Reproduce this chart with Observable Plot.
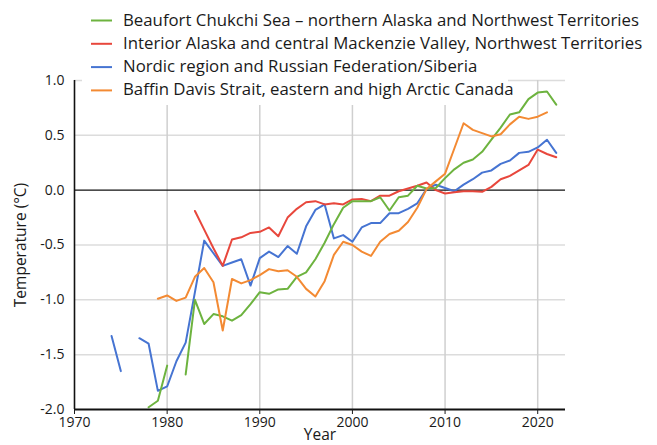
<!DOCTYPE html>
<html>
<head>
<meta charset="utf-8">
<script src="https://cdn.jsdelivr.net/npm/d3@7"></script>
<script src="https://cdn.jsdelivr.net/npm/@observablehq/plot@0.6"></script>
<style>
  html, body { margin: 0; padding: 0; background: #fff; }
  #chart { width: 657px; height: 445px; }
</style>
</head>
<body>
<div id="chart"></div>
<script>
const years = d3.range(1974, 2023);

const seriesNames = [
  "Beaufort Chukchi Sea \u2013 northern Alaska and Northwest Territories",
  "Interior Alaska and central Mackenzie Valley, Northwest Territories",
  "Nordic region and Russian Federation/Siberia",
  "Baffin Davis Strait, eastern and high Arctic Canada"
];
const seriesColors = ["#6db33f", "#e8473c", "#4674d2", "#f38a33"];

// values for 1974..2022 (null = no data)
const beaufort = [
  null, null, null, null, -1.98, -1.92, -1.60, null, -1.68, -1.00,
  -1.22, -1.13, -1.15, -1.19, -1.14, -1.04, -0.93, -0.945, -0.905, -0.90,
  -0.79, -0.75, -0.63, -0.48, -0.31, -0.16, -0.10, -0.10, -0.10, -0.065,
  -0.185, -0.065, -0.05, 0.04, 0.015, 0.02, 0.11, 0.19, 0.25, 0.28,
  0.35, 0.46, 0.57, 0.69, 0.71, 0.83, 0.89, 0.90, 0.78
];
const interior = [
  null, null, null, null, null, null, null, null, null, -0.19,
  -0.36, -0.53, -0.69, -0.45, -0.43, -0.39, -0.38, -0.34, -0.42, -0.25,
  -0.17, -0.11, -0.10, -0.13, -0.12, -0.13, -0.085, -0.08, -0.10, -0.05,
  -0.05, -0.01, 0.015, 0.04, 0.07, 0.00, -0.03, -0.02, -0.01, -0.01,
  -0.015, 0.03, 0.10, 0.13, 0.18, 0.23, 0.37, 0.33, 0.30
];
const nordic = [
  -1.33, -1.65, null, -1.35, -1.40, -1.83, -1.79, -1.56, -1.39, -0.93,
  -0.46, -0.575, -0.69, -0.66, -0.63, -0.87, -0.62, -0.56, -0.61, -0.51,
  -0.58, -0.33, -0.18, -0.13, -0.44, -0.41, -0.47, -0.34, -0.30, -0.30,
  -0.21, -0.21, -0.17, -0.12, 0.01, 0.05, 0.02, -0.01, 0.05, 0.10,
  0.16, 0.18, 0.24, 0.27, 0.34, 0.35, 0.39, 0.46, 0.34
];
const baffin = [
  null, null, null, null, null, -0.99, -0.96, -1.01, -0.98, -0.79,
  -0.71, -0.84, -1.28, -0.81, -0.85, -0.82, -0.775, -0.72, -0.74, -0.73,
  -0.79, -0.90, -0.97, -0.83, -0.59, -0.47, -0.50, -0.56, -0.60, -0.47,
  -0.40, -0.37, -0.29, -0.16, 0.01, 0.08, 0.15, 0.38, 0.61, 0.55,
  0.52, 0.49, 0.51, 0.60, 0.67, 0.65, 0.67, 0.71, null
];

const xTicks = [1970, 1980, 1990, 2000, 2010, 2020];
const yTicks = [-2, -1.5, -1, -0.5, 0, 0.5, 1];

const seriesValues = [beaufort, interior, nordic, baffin];
const rows = (vals) => years.map((y, i) => ({year: y, value: vals[i]}));

const drawOrder = [2, 1, 0, 3];

const svg = Plot.plot({
  width: 657,
  height: 445,
  marginLeft: 74,
  marginRight: 92,
  marginTop: 80,
  marginBottom: 36,
  style: {fontFamily: "'Open Sans', sans-serif", fontSize: "14px", color: "#1a1a1a", background: "#fff"},
  x: {domain: [1970, 2023]},
  y: {domain: [-2, 1]},
  marks: [
    Plot.gridY([-1.5, -1, -0.5, 0.5, 1], {stroke: "#dcdcdc", strokeOpacity: 1, strokeWidth: 1.5}),
    Plot.gridX(xTicks.slice(1), {stroke: "#cfcfcf", strokeOpacity: 1, strokeWidth: 1.5}),
    Plot.ruleY([0], {stroke: "#111", strokeWidth: 1.3}),
    ...drawOrder.map(k => Plot.line(rows(seriesValues[k]), {
      x: "year", y: "value", stroke: seriesColors[k], strokeWidth: 2, curve: "linear"
    })),
    Plot.ruleX([1970], {stroke: "#111", strokeWidth: 1.6}),
    Plot.ruleY([-2], {stroke: "#111", strokeWidth: 2}),
    Plot.axisX(xTicks, {
      tickSize: 5, tickPadding: 3, tickFormat: d => String(d),
      label: "Year", labelAnchor: "center", labelArrow: "none",
      labelOffset: 30, fontSize: 14
    }),
    Plot.axisY(yTicks, {
      tickSize: 0, tickPadding: 10, tickFormat: d => d.toFixed(1),
      label: "Temperature (\u00B0C)", labelAnchor: "center", labelArrow: "none",
      labelOffset: 60, fontSize: 14
    })
  ]
});

// slightly larger axis titles
d3.select(svg).selectAll('g[aria-label="x-axis label"], g[aria-label="y-axis label"]')
  .attr("font-size", 15.5);

// Legend (white box over the top of the plot area)
const lg = d3.select(svg).append("g").attr("class", "legend").attr("text-anchor", "start");
lg.append("rect").attr("x", 82).attr("y", 0).attr("width", 426).attr("height", 105).attr("fill", "#fff");
seriesNames.forEach((name, i) => {
  const base = 25.5 + i * 23.3;
  lg.append("line")
    .attr("x1", 91).attr("x2", 112)
    .attr("y1", base - 5).attr("y2", base - 5)
    .attr("stroke", seriesColors[i]).attr("stroke-width", 2);
  lg.append("text")
    .attr("x", 123).attr("y", base)
    .attr("text-anchor", "start")
    .attr("font-size", 16.8)
    .attr("fill", "#1a1a1a")
    .text(name);
});

document.getElementById("chart").appendChild(svg);
</script>
</body>
</html>
